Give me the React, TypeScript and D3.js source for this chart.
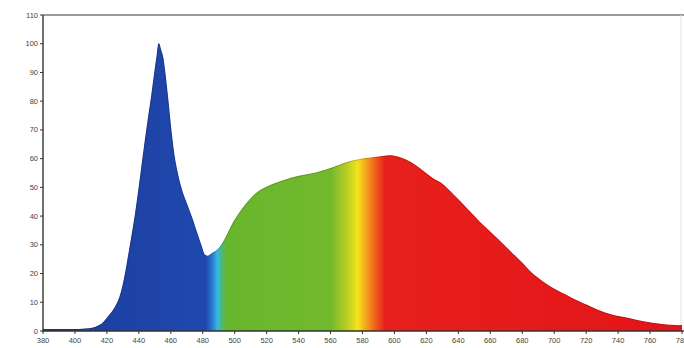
import React from "react";
import * as d3 from "d3";

const wavelengths = [380, 390, 400, 405, 410, 415, 418, 421, 425, 428, 430, 432, 434, 436, 438, 440, 442, 444, 446, 448, 450, 451.5, 452.5, 453.5, 455, 456, 458, 460, 462, 464, 467, 470, 473, 476, 479, 481, 483, 486, 489, 492, 495, 499, 503, 507, 511, 515, 520, 525, 530, 540, 551, 560, 567, 575, 582, 590, 597, 602, 607, 612, 618, 624, 630, 636, 641, 647, 653, 660, 667, 673, 680, 686, 693, 700, 707, 714, 720, 728, 736, 745, 755, 765, 772, 778, 780];
const intensity = [0.5, 0.5, 0.5, 0.6, 0.8, 1.8, 3, 5, 8, 11.5, 15.5, 21, 27.5, 34, 41, 49, 57.5, 66, 74, 81.5, 90, 96, 100, 98, 95, 91, 81, 70, 61, 55, 48.5, 44, 39.5, 34.5, 29.5, 26.5, 26, 27, 28, 30, 33, 37.5, 41, 44, 46.5, 48.5, 50, 51.2, 52.2, 53.8, 55, 56.5, 58, 59.3, 60, 60.5, 61, 60.5, 59.5, 58, 55.5, 53, 51, 47.8, 45, 41.5, 38, 34.3, 30.6, 27.3, 23.5, 20, 17, 14.5, 12.5, 10.5, 9, 7, 5.5, 4.5, 3.3, 2.4, 2, 1.8, 1.9];

const xTicks = [380, 400, 420, 440, 460, 480, 500, 520, 540, 560, 580, 600, 620, 640, 660, 680, 700, 720, 740, 760, 780];
const yTicks = [0, 10, 20, 30, 40, 50, 60, 70, 80, 90, 100, 110];

const colorStops: [number, string][] = [
  [380, "#1c3c9c"],
  [482, "#1f48ae"],
  [486, "#2a7cd0"],
  [489, "#34b8e8"],
  [492, "#50b872"],
  [495, "#68b62e"],
  [560, "#72b92c"],
  [570, "#b8cc26"],
  [577, "#f4e31c"],
  [581, "#f4b21f"],
  [587, "#f06a1c"],
  [594, "#e7201c"],
  [780, "#e41418"],
];

export default function App() {
  const W = 684, H = 348;
  const x = d3.scaleLinear().domain([380, 780]).range([43, 682]);
  const y = d3.scaleLinear().domain([0, 110]).range([331, 15]);
  const pts = wavelengths.map((w, i) => [w, intensity[i]] as [number, number]);
  const area = d3
    .area<[number, number]>()
    .x((d) => x(d[0]))
    .y0(y(0))
    .y1((d) => y(d[1]))
    .curve(d3.curveMonotoneX);
  const line = d3
    .line<[number, number]>()
    .x((d) => x(d[0]))
    .y((d) => y(d[1]))
    .curve(d3.curveMonotoneX);
  const font = "'Liberation Sans', Arial, sans-serif";
  return (
    <div style={{ position: "fixed", left: 0, top: 0, width: W, height: H, background: "#fff" }}>
      <svg width={W} height={H} style={{ display: "block" }}>
        <defs>
          <linearGradient id="spec" gradientUnits="userSpaceOnUse" x1={x(380)} x2={x(780)} y1={0} y2={0}>
            {colorStops.map(([w, c], i) => (
              <stop key={i} offset={(w - 380) / 400} stopColor={c} />
            ))}
          </linearGradient>
        </defs>
        <rect x={0} y={0} width={W} height={H} fill="#fff" />
        <line x1={x(380)} x2={W} y1={y(110)} y2={y(110)} stroke="#7a7a7a" strokeWidth={1.6} />
        <line x1={681} x2={681} y1={y(110)} y2={y(0)} stroke="#e2e2e2" strokeWidth={1} />
        <path d={area(pts) || ""} fill="url(#spec)" />
        <path d={line(pts) || ""} fill="none" stroke="url(#spec)" strokeWidth={1.2} />
        <path d={line(pts) || ""} fill="none" stroke="rgba(0,0,0,0.22)" strokeWidth={0.8} />
        <line x1={x(380)} x2={x(380)} y1={y(110)} y2={y(0) + 1} stroke="#333" strokeWidth={1.4} />
        <line x1={x(380)} x2={W} y1={y(0)} y2={y(0)} stroke="#333" strokeWidth={1.4} />
        {yTicks.map((t) => (
          <g key={"y" + t}>
            <line x1={x(380) - 3} x2={x(380)} y1={y(t)} y2={y(t)} stroke="#333" strokeWidth={1} />
            <text x={x(380) - 5} y={y(t) + 2.5} textAnchor="end" fontSize={7.5} fill="#444" fontFamily={font}>
              {t}
            </text>
          </g>
        ))}
        {xTicks.map((t) => (
          <g key={"x" + t}>
            <line x1={x(t)} x2={x(t)} y1={y(0)} y2={y(0) + 3} stroke="#333" strokeWidth={1} />
            <text x={x(t)} y={343} textAnchor="middle" fontSize={7.5} fill="#444" fontFamily={font}>
              {t}
            </text>
          </g>
        ))}
      </svg>
    </div>
  );
}
